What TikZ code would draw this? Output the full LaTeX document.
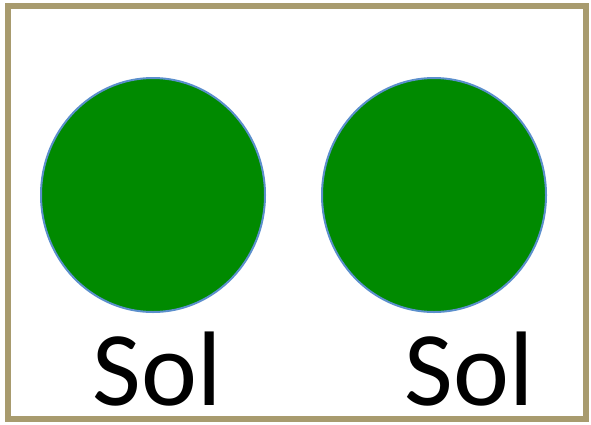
\documentclass[tikz,border=0pt]{standalone}
\usepackage{fontspec}
\setmainfont{Carlito}
\usetikzlibrary{shapes.geometric}

\definecolor{frameolive}{HTML}{A89B6E}
\definecolor{solgreen}{HTML}{008A00}
\definecolor{rimblue}{HTML}{5B8FCC}

\begin{document}
\begin{tikzpicture}[x=1pt,y=-1pt]
\useasboundingbox (0,0) rectangle (591,424);
\fill[white] (0,0) rectangle (591,424);
\draw[frameolive,line width=6pt] (8,6) rectangle (586,419);

\node[ellipse,minimum width=224pt,minimum height=234pt,fill=solgreen,draw=rimblue,line width=2pt,inner sep=0pt] (solA) at (153,195) {};
\node[ellipse,minimum width=224pt,minimum height=234pt,fill=solgreen,draw=rimblue,line width=2pt,inner sep=0pt] (solB) at (434,195) {};
\node[anchor=base,font=\fontsize{106}{106}\selectfont,inner sep=0pt] (labA) at (157,405) {Sol};
\node[anchor=base,font=\fontsize{106}{106}\selectfont,inner sep=0pt] (labB) at (469,405) {Sol};
\end{tikzpicture}
\end{document}
